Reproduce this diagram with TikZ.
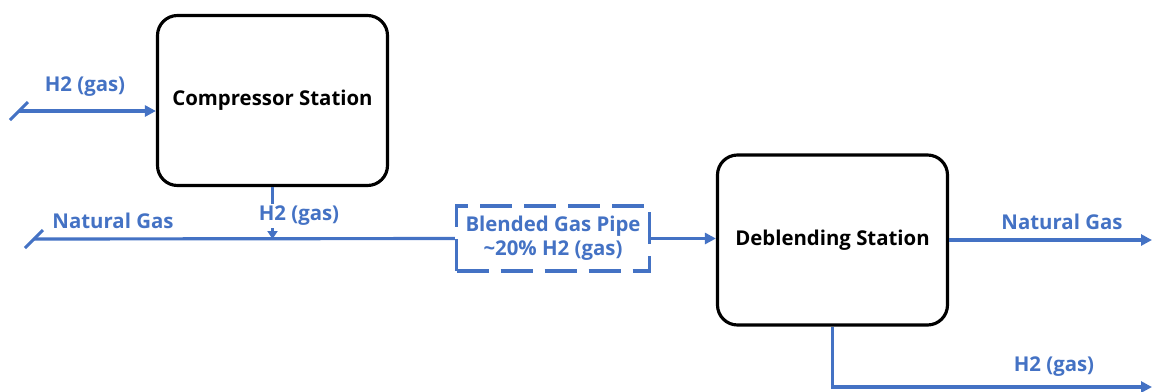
\documentclass[tikz,border=0pt]{standalone}
\usepackage{fontspec}
\setmainfont{Open Sans}
\usetikzlibrary{arrows.meta}
\definecolor{pipeblue}{RGB}{68,114,196}
\begin{document}
\begin{tikzpicture}[x=0.2mm,y=-0.2mm,>={Triangle[length=2.2mm,width=2.2mm]},
    station/.style={draw=black,line width=1.8pt,rounded corners=4mm,minimum width=46mm,minimum height=34mm,font=\bfseries\fontsize{11.6}{13.5}\selectfont},
    pipe/.style={draw=pipeblue,line width=1.8pt},
    flow/.style={text=pipeblue,font=\bfseries\fontsize{11.6}{13.5}\selectfont,inner sep=1pt}]
  \useasboundingbox (0,0) rectangle (1154,391);
  % stations
  \node[station] (comp) at (272.5,100.5) {Compressor Station};
  \node[station] (deblend) at (832.5,240) {Deblending Station};
  % pipe ends
  \coordinate (h2in) at (19,111);
  \coordinate (ngin) at (34,239);
  \coordinate (ngout) at (1152,240);
  \coordinate (h2out) at (1152,387);
  \draw[pipe] (h2in) ++(-9,9) -- ++(18,-18);
  \draw[pipe] (ngin) ++(-9,9) -- ++(18,-18);
  \draw[pipe,->] (h2in) -- (h2in -| comp.west);
  % blended section
  \node[pipe,dashed,dash pattern=on 6.4mm off 2.4mm,fill=white,minimum width=38.6mm,minimum height=13mm,align=center,flow] (blend) at (553,238.5) {Blended Gas Pipe\\[0pt]\textasciitilde20\% H2 (gas)};
  \draw[pipe] (ngin) -- (blend.west);
  \draw[pipe,->] (blend.east) -- (blend.east -| deblend.west);
  \draw[pipe,->,>={Triangle[length=1.6mm,width=2mm]}] (comp.south) -- (comp.south |- ngin);
  \draw[pipe,->] (deblend.east |- ngout) -- (ngout);
  \draw[pipe,->] (deblend.south) |- (h2out);
  % labels
  \node[flow] (h2inlabel) at (85,87) {H2 (gas)};
  \node[flow] (nginlabel) at (113,221) {Natural Gas};
  \node[flow,fill=white] (h2mixlabel) at (299,216) {H2 (gas)};
  \node[flow] (ngoutlabel) at (1062,222) {Natural Gas};
  \node[flow] (h2outlabel) at (1054,367) {H2 (gas)};
\end{tikzpicture}
\end{document}
